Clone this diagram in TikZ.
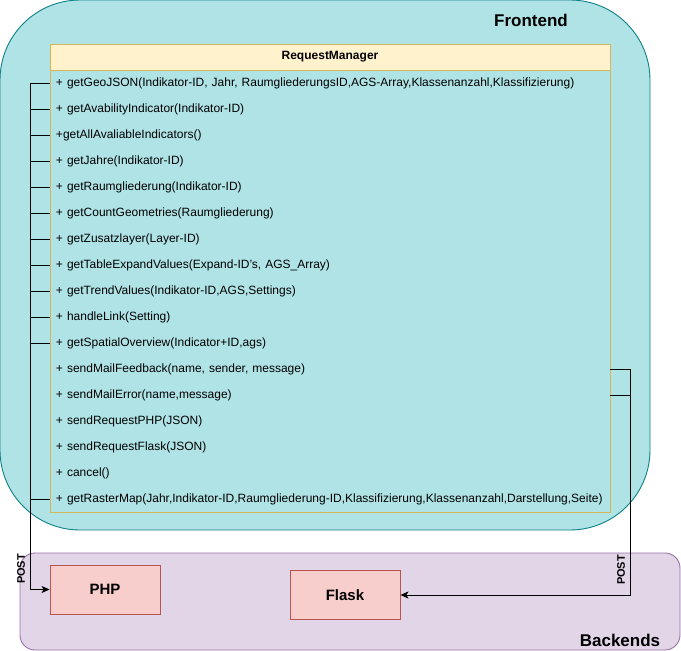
\documentclass[tikz,border=0pt]{standalone}
\usepackage{fontspec}
\setmainfont{Liberation Sans}
\usetikzlibrary{arrows.meta,positioning}
\definecolor{frontfill}{HTML}{B0E3E6}
\definecolor{frontline}{HTML}{0E8088}
\definecolor{backfill}{HTML}{E1D5E7}
\definecolor{backline}{HTML}{9673A6}
\definecolor{classfill}{HTML}{FFF2CC}
\definecolor{classline}{HTML}{D6B656}
\definecolor{srvfill}{HTML}{F8CECC}
\definecolor{srvline}{HTML}{B85450}

\begin{document}
\begin{tikzpicture}[x=1pt, y=-1pt, line width=0.9pt,
    method/.style={text width=548pt, inner xsep=6pt, inner ysep=0pt, outer sep=0pt,
      minimum height=26pt, align=left, font=\fontsize{12}{14}\selectfont},
    title/.style={font=\fontsize{17}{19}\selectfont\bfseries},
    postlabel/.style={rotate=90, inner sep=0pt, font=\fontsize{11}{12}\selectfont\bfseries},
    post/.style={-{Stealth[length=8pt,width=7pt,inset=2pt]}}]
      \useasboundingbox (0,0) rectangle (681,651);
      % containers
      \node (frontend) [draw= frontline, fill= frontfill, rounded corners=80pt,
        minimum width=650pt, minimum height=530pt] at (325,265) {};
      \node (frontendlabel) [title] at (531,20) {Frontend};
      \node (backends) [draw= backline, fill= backfill, rounded corners=15pt,
        minimum width=660pt, minimum height=97pt] at (350,601.5) {};
      \node (backendslabel) [title] at (620,640) {Backends};
      % RequestManager class
      \node (rmhead) [draw= classline, fill= classfill, minimum width=560pt, minimum height=26pt,
        outer sep=0pt, font=\fontsize{12}{14}\selectfont\bfseries] at (330,57) {RequestManager};
      \begin{scope}[every node/.style={method}]
        \node (m1) [below=0pt of rmhead] {+ getGeoJSON(Indikator-ID, Jahr, RaumgliederungsID,AGS-Array,Klassenanzahl,Klassifizierung)};
        \node (m2) [below=0pt of m1] {+ getAvabilityIndicator(Indikator-ID)};
        \node (m3) [below=0pt of m2] {+getAllAvaliableIndicators()};
        \node (m4) [below=0pt of m3] {+ getJahre(Indikator-ID)};
        \node (m5) [below=0pt of m4] {+ getRaumgliederung(Indikator-ID)};
        \node (m6) [below=0pt of m5] {+ getCountGeometries(Raumgliederung)};
        \node (m7) [below=0pt of m6] {+ getZusatzlayer(Layer-ID)};
        \node (m8) [below=0pt of m7] {+ getTableExpandValues(Expand-ID's, AGS\_Array)};
        \node (m9) [below=0pt of m8] {+ getTrendValues(Indikator-ID,AGS,Settings)};
        \node (m10) [below=0pt of m9] {+ handleLink(Setting)};
        \node (m11) [below=0pt of m10] {+ getSpatialOverview(Indicator+ID,ags)};
        \node (m12) [below=0pt of m11] {+ sendMailFeedback(name, sender, message)};
        \node (m13) [below=0pt of m12] {+ sendMailError(name,message)};
        \node (m14) [below=0pt of m13] {+ sendRequestPHP(JSON)};
        \node (m15) [below=0pt of m14] {+ sendRequestFlask(JSON)};
        \node (m16) [below=0pt of m15] {+ cancel()};
        \node (m17) [below=0pt of m16] {+ getRasterMap(Jahr,Indikator-ID,Raumgliederung-ID,Klassifizierung,Klassenanzahl,Darstellung,Seite)};
      \end{scope}
      \draw[classline] (rmhead.south west) rectangle (m17.south east);
      % backends
      \begin{scope}[every node/.style={draw= srvline, fill= srvfill, minimum width=110pt,
          minimum height=49pt, font=\fontsize{15}{17}\selectfont\bfseries}]
        \node (php) at (105,589.5) {PHP};
        \node (flask) at (345,595) {Flask};
      \end{scope}
      % requests
      \draw[post] (m1.west) -- ++(-20,0) |- (php.west);
      \draw (m2.west) -- ++(-20,0);
      \draw (m3.west) -- ++(-20,0);
      \draw (m4.west) -- ++(-20,0);
      \draw (m5.west) -- ++(-20,0);
      \draw (m6.west) -- ++(-20,0);
      \draw (m7.west) -- ++(-20,0);
      \draw (m8.west) -- ++(-20,0);
      \draw (m9.west) -- ++(-20,0);
      \draw (m10.west) -- ++(-20,0);
      \draw (m11.west) -- ++(-20,0);
      \draw (m17.west) -- ++(-20,0);
      \draw[post] (m12.east) -- ++(20,0) |- (flask.east);
      \draw (m13.east) -- ++(20,0);
      \node (postphp) [postlabel] at (21,569) {POST};
      \node (postflask) [postlabel] at (621,570) {POST};
    \end{tikzpicture}
\end{document}
